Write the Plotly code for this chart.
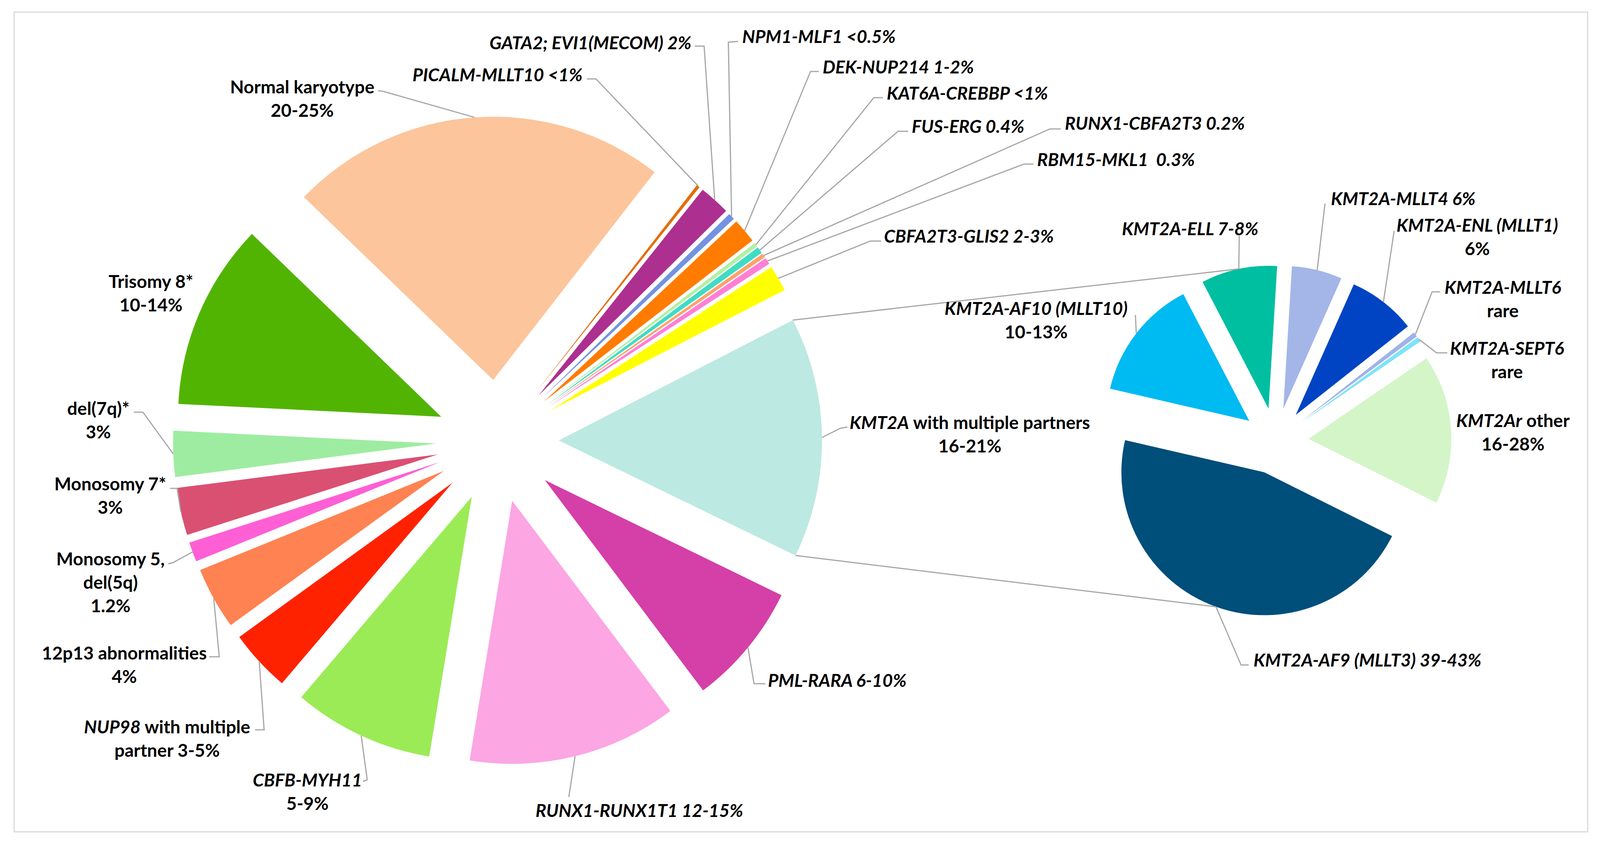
import math
import plotly.graph_objects as go

# reference design space (pixels) and the actual browser canvas
RW, RH = 4422, 2173
CW, CH = 4096, 2173
FX = CW / RW          # horizontal mapping reference -> canvas
KR = math.sqrt(FX)    # radius compromise for round pies

# ---------------- data ----------------
main_names = ["Normal karyotype", "PICALM-MLLT10", "GATA2; EVI1(MECOM)", "NPM1-MLF1", "DEK-NUP214",
              "KAT6A-CREBBP", "FUS-ERG", "RUNX1-CBFA2T3", "RBM15-MKL1", "CBFA2T3-GLIS2",
              "KMT2A with multiple partners", "PML-RARA", "RUNX1-RUNX1T1", "CBFB-MYH11",
              "NUP98 with multiple partner", "12p13 abnormalities", "Monosomy 5, del(5q)",
              "Monosomy 7*", "del(7q)*", "Trisomy 8*"]
main_values = [23.2, 0.2, 1.9, 0.4, 1.5, 0.25, 0.4, 0.25, 0.4, 1.6,
               14.7, 7.5, 12.8, 8.6, 3.8, 3.8, 1.2, 2.9, 2.8, 11.4]
main_colors = ["#FCC59C", "#E46C0A", "#AD2F8F", "#7393E0", "#FF7C00",
               "#B3F0A1", "#3FDCC4", "#FFA26B", "#FF7FD5", "#FFFF00",
               "#BCE9E1", "#D43FA8", "#FCA6E3", "#9BEB56", "#FF2200",
               "#FF8252", "#FF5FD5", "#DA5072", "#9EECA1", "#52B402"]

sub_names = ["KMT2A-AF10 (MLLT10)", "KMT2A-ELL", "KMT2A-MLLT4", "KMT2A-ENL (MLLT1)",
             "KMT2A-MLLT6", "KMT2A-SEPT6", "KMT2Ar other", "KMT2A-AF9 (MLLT3)"]
sub_values = [13.75, 8.6, 5.7, 7.7, 0.55, 0.55, 16.9, 46.25]
sub_colors = ["#00BAF2", "#00BFA1", "#A4B6E7", "#0044C4", "#9FB3E9", "#7FE3F8", "#D4F5C8", "#004E7A"]

# label texts
main_text = {
    "Normal karyotype": "Normal karyotype<br>20-25%",
    "PICALM-MLLT10": "<i>PICALM-MLLT10 &lt;1%</i>",
    "GATA2; EVI1(MECOM)": "<i>GATA2; EVI1(MECOM) 2%</i>",
    "NPM1-MLF1": "<i>NPM1-MLF1 &lt;0.5%</i>",
    "DEK-NUP214": "<i>DEK-NUP214 1-2%</i>",
    "KAT6A-CREBBP": "<i>KAT6A-CREBBP &lt;1%</i>",
    "FUS-ERG": "<i>FUS-ERG 0.4%</i>",
    "RUNX1-CBFA2T3": "<i>RUNX1-CBFA2T3 0.2%</i>",
    "RBM15-MKL1": "<i>RBM15-MKL1&nbsp; 0.3%</i>",
    "CBFA2T3-GLIS2": "<i>CBFA2T3-GLIS2 2-3%</i>",
    "KMT2A with multiple partners": "<i>KMT2A</i> with multiple partners<br>16-21%",
    "PML-RARA": "<i>PML-RARA 6-10%</i>",
    "RUNX1-RUNX1T1": "<i>RUNX1-RUNX1T1 12-15%</i>",
    "CBFB-MYH11": "<i>CBFB-MYH11</i><br>5-9%",
    "NUP98 with multiple partner": "<i>NUP98</i> with multiple<br>partner 3-5%",
    "12p13 abnormalities": "12p13 abnormalities<br>4%",
    "Monosomy 5, del(5q)": "Monosomy 5,<br>del(5q)<br>1.2%",
    "Monosomy 7*": "Monosomy 7*<br>3%",
    "del(7q)*": "del(7q)*<br>3%",
    "Trisomy 8*": "Trisomy 8*<br>10-14%",
}
sub_text = {
    "KMT2A-AF10 (MLLT10)": "<i>KMT2A-AF10 (MLLT10)</i><br>10-13%",
    "KMT2A-ELL": "<i>KMT2A-ELL 7-8%</i>",
    "KMT2A-MLLT4": "<i>KMT2A-MLLT4 6%</i>",
    "KMT2A-ENL (MLLT1)": "<i>KMT2A-ENL (MLLT1)</i><br>6%",
    "KMT2A-MLLT6": "<i>KMT2A-MLLT6</i><br>rare",
    "KMT2A-SEPT6": "<i>KMT2A-SEPT6</i><br>rare",
    "KMT2Ar other": "<i>KMT2Ar</i> other<br>16-28%",
    "KMT2A-AF9 (MLLT3)": "<i>KMT2A-AF9 (MLLT3) 39-43%</i>",
}

# ---------------- layout constants (reference pixels) ----------------
MAIN_CX, MAIN_CY, MAIN_R, MAIN_PULL, MAIN_ROT = 1375, 1129, 700, 0.233, 314
SUB_CX, SUB_CY, SUB_R, SUB_PULL, SUB_ROT = 3525, 1129, 380, 0.232, 283

# label placement: name -> (x, y, xanchor, leader start, leader elbow)
main_place = {
    "Normal karyotype": (835, 251, "center", (1045, 232), (1060, 234)),
    "PICALM-MLLT10": (1612, 190, "right", (1622, 202), (1647, 202)),
    "GATA2; EVI1(MECOM)": (1913, 108, "right", (1920, 118), (1946, 118)),
    "NPM1-MLF1": (2049, 92, "left", (2040, 106), (2013, 108)),
    "DEK-NUP214": (2271, 170, "left", (2263, 183), (2240, 183)),
    "KAT6A-CREBBP": (2448, 237, "left", (2440, 250), (2415, 250)),
    "FUS-ERG": (2518, 322, "left", (2510, 336), (2482, 336)),
    "RUNX1-CBFA2T3": (2941, 315, "left", (2932, 330), (2902, 330)),
    "RBM15-MKL1": (2864, 407, "left", (2856, 420), (2830, 420)),
    "CBFA2T3-GLIS2": (2441, 603, "left", (2435, 617), (2405, 617)),
    "KMT2A with multiple partners": (2681, 1110, "center", (2342, 1093), (2323, 1096)),
    "PML-RARA": (2120, 1740, "left", (2115, 1750), (2084, 1750)),
    "RUNX1-RUNX1T1": (1767, 2073, "center", (1572, 2040), (1572, 2040)),
    "CBFB-MYH11": (850, 2025, "center", (1003, 2000), (1015, 1996)),
    "NUP98 with multiple partner": (462, 1889, "center", (705, 1868), (730, 1868)),
    "12p13 abnormalities": (343, 1700, "center", (578, 1681), (606, 1681)),
    "Monosomy 5, del(5q)": (305, 1489, "center", (465, 1443), (478, 1440)),
    "Monosomy 7*": (305, 1267, "center", (470, 1250), (490, 1250)),
    "del(7q)*": (272, 1074, "center", (370, 1055), (395, 1055)),
    "Trisomy 8*": (417, 750, "center", None, None),
}
sub_place = {
    "KMT2A-AF10 (MLLT10)": (2864, 819, "center", (3138, 806), (3138, 806)),
    "KMT2A-ELL": (3290, 584, "center", (3425, 603), (3425, 603)),
    "KMT2A-MLLT4": (3676, 507, "left", (3662, 521), (3662, 521)),
    "KMT2A-ENL (MLLT1)": (4083, 605, "center", (3853, 591), (3853, 591)),
    "KMT2A-MLLT6": (4154, 765, "center", (3980, 747), (3958, 747)),
    "KMT2A-SEPT6": (4166, 920, "center", (4000, 903), (3970, 903)),
    "KMT2Ar other": (4181, 1105, "center", None, None),
    "KMT2A-AF9 (MLLT3)": (3462, 1688, "left", (3451, 1702), (3430, 1702)),
}

FONT = "Lato, 'Open Sans', sans-serif"
FSIZE = 46
LEADER = "#A6A6A6"


# canvas-pixel helpers
def cx_(x):      # reference x -> canvas x
    return x * FX


def px(x):       # canvas x -> paper
    return x / CW


def py(y):       # canvas y -> paper
    return 1 - y / CH


def domain(cx, cy, r, pull):
    h = r * (1 + pull)
    return dict(x=[(cx - h) / CW, (cx + h) / CW], y=[1 - (cy + h) / CH, 1 - (cy - h) / CH])


def geometry(values, rot, cx, cy, r, pull):
    tot = float(sum(values))
    a = math.radians(rot)
    out = []
    for v in values:
        da = 2 * math.pi * v / tot
        mid = a + da / 2
        ax = cx + pull * r * math.sin(mid)
        ay = cy - pull * r * math.cos(mid)
        out.append(dict(
            anchor=(ax + r * math.sin(mid), ay - r * math.cos(mid)),
            c0=(ax + r * math.sin(a), ay - r * math.cos(a)),
            c1=(ax + r * math.sin(a + da), ay - r * math.cos(a + da)),
        ))
        a += da
    return out


m_cx, m_cy, m_r = cx_(MAIN_CX), MAIN_CY, MAIN_R * KR
s_cx, s_cy, s_r = cx_(SUB_CX), SUB_CY, SUB_R * KR

fig = go.Figure()
fig.add_trace(go.Pie(
    labels=main_names, values=main_values, sort=False, direction="clockwise",
    rotation=MAIN_ROT, pull=[MAIN_PULL] * len(main_values),
    marker=dict(colors=main_colors, line=dict(width=0)),
    textinfo="none", hoverinfo="skip", showlegend=False,
    domain=domain(m_cx, m_cy, m_r, MAIN_PULL),
))
fig.add_trace(go.Pie(
    labels=sub_names, values=sub_values, sort=False, direction="clockwise",
    rotation=SUB_ROT, pull=[SUB_PULL] * len(sub_values),
    marker=dict(colors=sub_colors, line=dict(width=0)),
    textinfo="none", hoverinfo="skip", showlegend=False,
    domain=domain(s_cx, s_cy, s_r, SUB_PULL),
))

g_main = geometry(main_values, MAIN_ROT, m_cx, m_cy, m_r, MAIN_PULL)
g_sub = geometry(sub_values, SUB_ROT, s_cx, s_cy, s_r, SUB_PULL)

shapes = []
annotations = []


def add_labels(names, geo, texts, place):
    for i, n in enumerate(names):
        x, y, xa, s, e = place[n]
        annotations.append(dict(
            x=px(cx_(x)), y=py(y), xref="paper", yref="paper", text="<b>" + texts[n] + "</b>",
            showarrow=False, xanchor=xa, yanchor="middle", align="center",
            font=dict(family=FONT, size=FSIZE, color="#000000"),
        ))
        if s is not None:
            a = geo[i]["anchor"]
            path = "M %.5f,%.5f L %.5f,%.5f L %.5f,%.5f" % (
                px(cx_(s[0])), py(s[1]), px(cx_(e[0])), py(e[1]), px(a[0]), py(a[1]))
            shapes.append(dict(type="path", xref="paper", yref="paper", path=path,
                               line=dict(color=LEADER, width=3)))


add_labels(main_names, g_main, main_text, main_place)
add_labels(sub_names, g_sub, sub_text, sub_place)

# connector lines between the KMT2A slice and the secondary pie
k = main_names.index("KMT2A with multiple partners")
top_end = g_sub[sub_names.index("KMT2A-ELL")]["anchor"]
bot_end = g_sub[sub_names.index("KMT2A-AF9 (MLLT3)")]["anchor"]
for p0, p1 in ((g_main[k]["c0"], top_end), (g_main[k]["c1"], bot_end)):
    shapes.append(dict(type="line", xref="paper", yref="paper",
                       x0=px(p0[0]), y0=py(p0[1]), x1=px(p1[0]), y1=py(p1[1]),
                       line=dict(color=LEADER, width=3)))

# chart frame
shapes.append(dict(type="rect", xref="paper", yref="paper",
                   x0=px(cx_(39)), y0=py(2129), x1=px(cx_(4388)), y1=py(31),
                   line=dict(color="#D9D9D9", width=3), fillcolor="rgba(0,0,0,0)", layer="below"))

fig.update_layout(
    width=CW, height=CH, margin=dict(l=0, r=0, t=0, b=0),
    paper_bgcolor="white", plot_bgcolor="white",
    shapes=shapes, annotations=annotations, showlegend=False,
)

fig.write_html("out.html", config={"displayModeBar": False},
               post_script="document.body.style.margin='0';document.body.style.overflow='hidden';")
